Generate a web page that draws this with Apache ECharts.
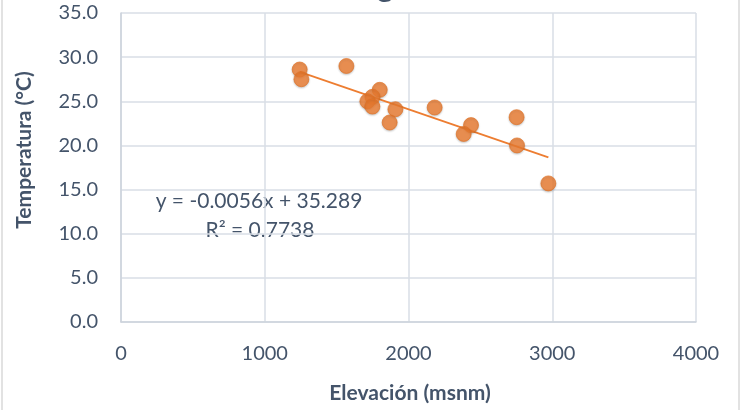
<!DOCTYPE html>
<html>
<head>
<meta charset="utf-8">
<script src="https://cdn.jsdelivr.net/npm/echarts@6/dist/echarts.min.js"></script>
<style>
  html, body { margin: 0; padding: 0; background: #ffffff; }
  #chart { width: 741px; height: 410px; }
</style>
</head>
<body>
<div id="chart"></div>
<script>
// Station elevation (m a.s.l.) and mean temperature (°C)
var elevacion = [1243, 1255, 1568, 1800, 1749, 1714, 1749, 1909, 1869, 2182, 2435, 2384, 2752, 2755, 2973];
var temperatura = [28.6, 27.5, 29.0, 26.3, 25.5, 25.0, 24.4, 24.1, 22.6, 24.3, 22.3, 21.3, 23.2, 20.0, 15.7];

// Linear trendline coefficients as printed on the chart
var pendiente = -0.0056;
var intercepto = 35.289;
var r2 = 0.7738;

var xTicks = [0, 1000, 2000, 3000, 4000];
var yTicks = [0, 5, 10, 15, 20, 25, 30, 35];

var textColor = '#44546a';
var fontFam = 'Lato, "Open Sans", sans-serif';
var gridColor = '#d9dee6';
var orange = '#ed7d31';

var puntos = elevacion.map(function (x, i) { return [x, temperatura[i]]; });
var xMin = Math.min.apply(null, elevacion);
var xMax = Math.max.apply(null, elevacion);
var tendencia = [
  [xMin, pendiente * xMin + intercepto],
  [xMax, pendiente * xMax + intercepto]
];

var chart = echarts.init(document.getElementById('chart'), null, { renderer: 'canvas' });
chart.setOption({
  backgroundColor: '#ffffff',
  animation: false,
  textStyle: { fontFamily: fontFam },
  grid: { left: 121, right: 45, top: 13, bottom: 88 },
  xAxis: {
    type: 'value',
    min: xTicks[0],
    max: xTicks[xTicks.length - 1],
    interval: 1000,
    axisLine: { show: true, lineStyle: { color: '#cdd3dc', width: 1.5 } },
    axisTick: { show: false },
    splitLine: { show: true, lineStyle: { color: gridColor, width: 1.5 } },
    axisLabel: {
      color: textColor, fontSize: 20, margin: 22, fontFamily: fontFam,
      formatter: function (v) { return String(v); }
    }
  },
  yAxis: {
    type: 'value',
    min: yTicks[0],
    max: yTicks[yTicks.length - 1],
    interval: 5,
    axisLine: { show: true, lineStyle: { color: '#cdd3dc', width: 1.5 } },
    axisTick: { show: false },
    splitLine: { show: true, lineStyle: { color: gridColor, width: 1.5 } },
    axisLabel: {
      color: textColor, fontSize: 20, margin: 23, fontFamily: fontFam,
      formatter: function (v) { return v.toFixed(1); }
    }
  },
  series: [
    {
      type: 'line',
      data: tendencia,
      showSymbol: false,
      symbol: 'none',
      lineStyle: { color: orange, width: 1.8 },
      z: 2
    },
    {
      type: 'scatter',
      data: puntos,
      symbol: 'circle',
      symbolSize: 15,
      itemStyle: {
        color: orange,
        borderColor: '#e2701f',
        borderWidth: 0.8,
        shadowBlur: 2,
        shadowColor: 'rgba(0,0,0,0.25)',
        shadowOffsetY: 1
      },
      z: 3
    }
  ],
  graphic: [
    {
      type: 'rect',
      shape: { x: 2, y: -10, width: 737, height: 430 },
      style: { fill: 'none', stroke: '#d9d9d9', lineWidth: 1.5 },
      silent: true
    },
    {
      type: 'text',
      style: {
        text: 'Regresión',
        x: 409, y: 2,
        textAlign: 'center',
        textVerticalAlign: 'bottom',
        fill: textColor,
        font: 'bold 30px ' + fontFam
      }
    },
    {
      type: 'text',
      style: {
        text: 'y = ' + pendiente.toFixed(4) + 'x + ' + intercepto.toFixed(3),
        x: 259, y: 201,
        textAlign: 'center',
        textVerticalAlign: 'middle',
        fill: textColor,
        font: '21px ' + fontFam
      }
    },
    {
      type: 'text',
      style: {
        text: 'R² = ' + r2.toFixed(4),
        x: 260, y: 230,
        textAlign: 'center',
        textVerticalAlign: 'middle',
        fill: textColor,
        font: '21px ' + fontFam
      }
    },
    {
      type: 'text',
      rotation: Math.PI / 2,
      x: 24, y: 150,
      style: {
        text: 'Temperatura (°C)',
        x: 0, y: 0,
        textAlign: 'center',
        textVerticalAlign: 'middle',
        fill: textColor,
        font: 'bold 21px ' + fontFam
      }
    },
    {
      type: 'text',
      style: {
        text: 'Elevación (msnm)',
        x: 410, y: 393,
        textAlign: 'center',
        textVerticalAlign: 'middle',
        fill: textColor,
        font: 'bold 21px ' + fontFam
      }
    }
  ]
});
</script>
</body>
</html>
